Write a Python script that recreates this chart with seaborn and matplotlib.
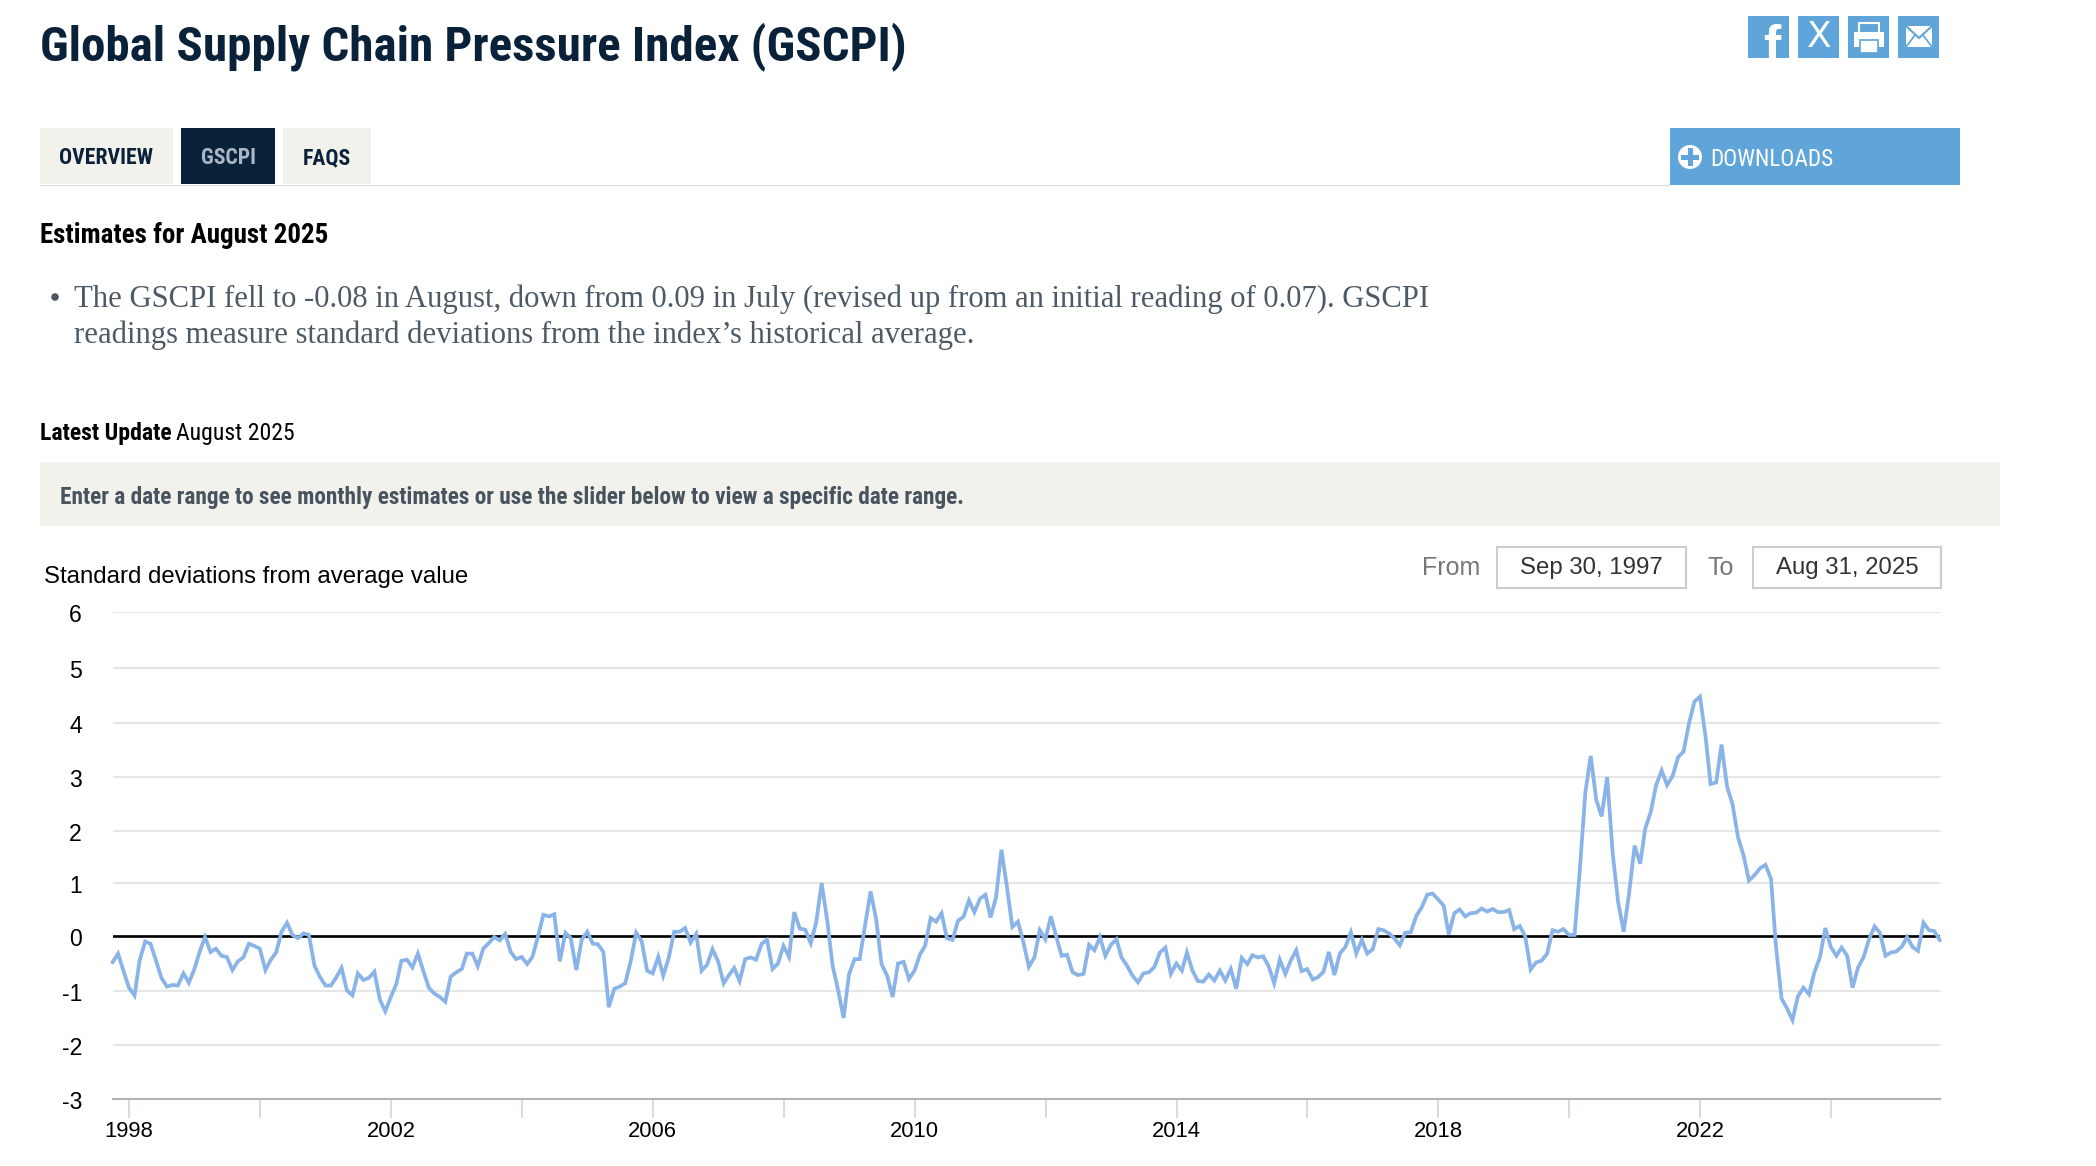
import numpy as np
import pandas as pd
import matplotlib
matplotlib.use("Agg")
import matplotlib.pyplot as plt
from matplotlib import font_manager as fm
from matplotlib.patches import Rectangle, Circle, Polygon
from matplotlib.transforms import ScaledTranslation
import seaborn as sns

# ---------- data ----------
gscpi_values = [
    -0.48,-0.32,-0.63,-0.94,-1.08,-0.45,-0.10,-0.14,-0.45,-0.76,
    -0.92,-0.89,-0.90,-0.68,-0.85,-0.60,-0.27,-0.02,-0.29,-0.23,
    -0.36,-0.38,-0.62,-0.46,-0.39,-0.14,-0.18,-0.23,-0.62,-0.44,
    -0.30,0.08,0.25,0.02,-0.04,0.05,0.02,-0.54,-0.74,-0.90,
    -0.90,-0.76,-0.58,-0.99,-1.08,-0.68,-0.80,-0.76,-0.65,-1.16,
    -1.375,-1.11,-0.87,-0.45,-0.43,-0.57,-0.32,-0.63,-0.94,-1.05,
    -1.11,-1.20,-0.74,-0.66,-0.60,-0.32,-0.32,-0.55,-0.23,-0.13,
    -0.02,-0.08,0.04,-0.29,-0.42,-0.38,-0.51,-0.38,-0.01,0.40,
    0.37,0.41,-0.46,0.06,-0.04,-0.62,-0.07,0.08,-0.14,-0.15,
    -0.29,-1.30,-0.96,-0.92,-0.86,-0.45,0.06,-0.10,-0.63,-0.68,
    -0.38,-0.72,-0.39,0.08,0.08,0.15,-0.12,0.04,-0.63,-0.52,
    -0.24,-0.46,-0.86,-0.72,-0.58,-0.82,-0.42,-0.39,-0.43,-0.14,
    -0.07,-0.60,-0.50,-0.18,-0.38,0.45,0.14,0.12,-0.13,0.25,
    1.00,0.29,-0.54,-0.99,-1.50,-0.69,-0.42,-0.42,0.22,0.84,
    0.32,-0.51,-0.72,-1.11,-0.50,-0.47,-0.78,-0.63,-0.33,-0.18,
    0.34,0.27,0.43,-0.04,-0.07,0.29,0.36,0.67,0.45,0.70,
    0.78,0.35,0.73,1.64,0.92,0.17,0.27,-0.12,-0.56,-0.39,
    0.11,-0.06,0.37,0.00,-0.36,-0.34,-0.66,-0.71,-0.69,-0.16,
    -0.26,-0.02,-0.36,-0.16,-0.06,-0.39,-0.54,-0.72,-0.84,-0.68,
    -0.66,-0.56,-0.30,-0.21,-0.69,-0.50,-0.63,-0.30,-0.63,-0.82,
    -0.83,-0.70,-0.81,-0.63,-0.81,-0.60,-0.96,-0.40,-0.51,-0.35,
    -0.39,-0.37,-0.56,-0.86,-0.43,-0.69,-0.45,-0.26,-0.64,-0.60,
    -0.79,-0.75,-0.65,-0.29,-0.71,-0.32,-0.20,0.07,-0.32,-0.07,
    -0.32,-0.24,0.13,0.11,0.05,-0.04,-0.17,0.06,0.07,0.38,
    0.54,0.78,0.80,0.69,0.57,0.03,0.43,0.50,0.37,0.43,
    0.44,0.52,0.46,0.51,0.45,0.45,0.49,0.13,0.19,0.00,
    -0.61,-0.48,-0.45,-0.32,0.11,0.08,0.13,0.02,0.02,1.24,
    2.71,3.39,2.58,2.27,3.00,1.56,0.64,0.08,0.80,1.72,
    1.37,2.04,2.35,2.85,3.12,2.85,3.02,3.37,3.47,4.00,
    4.39,4.48,3.74,2.87,2.90,3.60,2.82,2.50,1.88,1.53,
    1.05,1.15,1.28,1.35,1.08,-0.20,-1.14,-1.32,-1.54,-1.10,
    -0.94,-1.06,-0.66,-0.39,0.15,-0.20,-0.36,-0.21,-0.36,-0.94,
    -0.57,-0.39,-0.06,0.18,0.06,-0.36,-0.30,-0.28,-0.19,-0.02,
    -0.20,-0.27,0.25,0.11,0.09,-0.08,
]
start_date = "1997-09-30"
y_ticks = [-3, -2, -1, 0, 1, 2, 3, 4, 5, 6]
tick_years = list(range(1998, 2026, 2))
labelled_years = list(range(1998, 2024, 4))

# ---------- helpers ----------
W, H = 2096, 1166
sns.set_theme(style="white")

def pick(*names):
    for n in names:
        try:
            fm.findfont(n, fallback_to_default=False)
            return n
        except Exception:
            pass
    return "DejaVu Sans"

NARROW = pick("Liberation Sans Narrow", "Roboto Condensed", "Roboto")
SANS = pick("Liberation Sans", "Arial")
SERIF = pick("Liberation Serif")
plt.rcParams["font.family"] = [SANS, "DejaVu Sans"]

fig = plt.figure(figsize=(W / 100, H / 100), dpi=100, facecolor="white")
page = fig.add_axes([0, 0, 1, 1], zorder=0)
page.set_xlim(0, W)
page.set_ylim(H, 0)
page.axis("off")

def box(x0, y0, x1, y1, **kw):
    page.add_patch(Rectangle((x0, y0), x1 - x0, y1 - y0, **kw))

def px(size):            # font px -> pt
    return size * 0.72

def txt(x, y, s, size, family=NARROW, weight="normal", color="black", ha="left", **kw):
    return page.text(x, y, s, fontsize=px(size), family=family, weight=weight,
                     color=color, ha=ha, va="center", **kw)

NAVY = "#0a2239"
TAB = "#f2f1ec"
BLUE = "#5fa5da"

# ---------- header ----------
txt(40, 47, "Global Supply Chain Pressure Index (GSCPI)", 49, weight="bold", color=NAVY)

box(40, 128, 173, 184, fc=TAB, ec="none")
box(181, 128, 275, 184, fc=NAVY, ec="none")
box(283, 128, 371, 184, fc=TAB, ec="none")
box(40, 184.5, 1670, 186, fc="#dcdcd6", ec="none")
txt(106.5, 158, "OVERVIEW", 21.8, weight="bold", color=NAVY, ha="center")
txt(228, 158, "GSCPI", 21.8, weight="bold", color="#a9b6c6", ha="center")
txt(327, 158, "FAQS", 21.8, weight="bold", color=NAVY, ha="center")

box(1670, 128, 1960, 185, fc=BLUE, ec="none")
page.add_patch(Circle((1690, 157), 12, fc="white", ec="none"))
box(1681, 154.5, 1699, 159.5, fc=BLUE, ec="none")
box(1687.5, 148, 1692.5, 166, fc=BLUE, ec="none")
txt(1710, 159, "DOWNLOADS", 23.3, color="white")

# social icons
for x0 in (1748, 1798, 1848, 1898):
    box(x0, 16, x0 + 41, 58, fc=BLUE, ec="none")
page.text(1772, 62, "f", fontsize=px(52), family=SANS, weight="bold", color="white",
          ha="center", va="baseline")
page.text(1819, 37, "X", fontsize=px(36), family="DejaVu Sans", color="white",
          ha="center", va="center")
box(1859, 23, 1879, 33, fc=BLUE, ec="white", lw=1.5)
box(1854, 32, 1884, 47, fc="white", ec="none")
box(1860, 40, 1878, 53, fc="white", ec=BLUE, lw=1.2)
page.add_patch(Polygon([(1906, 26), (1932, 26), (1932, 47), (1906, 47)], fc="white", ec="none"))
page.plot([1906, 1919, 1932], [26, 38, 26], color=BLUE, lw=1.5)
page.plot([1906, 1915], [47, 35], color=BLUE, lw=1.2)
page.plot([1932, 1923], [47, 35], color=BLUE, lw=1.2)

# ---------- copy ----------
txt(40, 235.5, "Estimates for August 2025", 27, weight="bold")
page.add_patch(Circle((55, 297), 3.8, fc="#4a5560", ec="none"))
txt(74, 299, "The GSCPI fell to -0.08 in August, down from 0.09 in July (revised up from an "
             "initial reading of 0.07). GSCPI", 30.6, family=SERIF, color="#4d5a66")
txt(74, 335, "readings measure standard deviations from the index\u2019s historical average.",
    30.6, family=SERIF, color="#4d5a66")

txt(40, 433.5, "Latest Update", 23.7, weight="bold")
txt(176, 433.5, "August 2025", 23.7)

box(40, 462, 2000, 526, fc=TAB, ec="none")
txt(60, 497.5, "Enter a date range to see monthly estimates or use the slider below to view a "
               "specific date range.", 23.3, weight="bold", color="#47535e")

txt(44, 577.5, "Standard deviations from average value", 23.95, family=SANS)

# date inputs
txt(1422, 568, "From", 25, family=SANS, color="#777777")
txt(1708, 568, "To", 25, family=SANS, color="#777777")
for x0, x1, s in ((1497, 1686, "Sep 30, 1997"), (1753, 1941, "Aug 31, 2025")):
    box(x0, 547, x1, 588, fc="white", ec="#cccccc", lw=1.5)
    txt((x0 + x1) / 2, 568, s, 24, family=SANS, color="#333333", ha="center")

# ---------- chart ----------
left, right, top, bottom = 112.5, 1940, 612, 1099
ax = fig.add_axes([left / W, 1 - bottom / H, (right - left) / W, (bottom - top) / H], zorder=2)
ax.patch.set_alpha(0)

# the reference's gridlines are unevenly spaced by a couple of pixels
grid_px = np.array([1099, 1045, 991, 936, 883, 831, 777, 723, 668, 612], float)
scale_pos = bottom - grid_px
vals = np.array(y_ticks, float)
ax.set_yscale("function", functions=(lambda v: np.interp(v, vals, scale_pos),
                                     lambda p: np.interp(p, scale_pos, vals)))

df = pd.DataFrame({
    "date": pd.date_range(start_date, periods=len(gscpi_values), freq="ME"),
    "gscpi": gscpi_values,
})

ax.set_ylim(-3, 6)
ax.set_xlim(df["date"].iloc[0], df["date"].iloc[-1])
ax.set_yticks(y_ticks)
ax.set_yticklabels([str(v) for v in y_ticks])
ax.grid(axis="y", color="#e6e6e6", lw=1.5, zorder=1)
ax.axhline(0, color="black", lw=1.9, zorder=2)

sns.lineplot(data=df, x="date", y="gscpi", ax=ax, color="#8ab4e8", lw=2.7,
             zorder=3, solid_joinstyle="miter", clip_on=False)
ax.set_xlim(df["date"].iloc[0], df["date"].iloc[-1])
ax.set_ylim(-3, 6)
ax.set_xlabel("")
ax.set_ylabel("")

tick_dates = [pd.Timestamp(year=y, month=1, day=1) for y in tick_years]
ax.set_xticks(tick_dates)
ax.set_xticklabels([str(y) if y in labelled_years else "" for y in tick_years])
ax.tick_params(axis="x", length=13.5, width=1.4, color="#d3dbeb", labelsize=px(22),
               labelcolor="black", pad=2, bottom=True)
ax.tick_params(axis="y", length=0, labelsize=px(23), labelcolor="black", pad=22)
for lab in ax.get_yticklabels():
    lab.set_transform(lab.get_transform() + ScaledTranslation(0, -0.6 / 72, fig.dpi_scale_trans))
for s in ("top", "left", "right"):
    ax.spines[s].set_visible(False)
ax.spines["bottom"].set_color("#b3b3b3")
ax.spines["bottom"].set_linewidth(1.5)

fig.savefig("out.png", dpi=100, facecolor="white")
